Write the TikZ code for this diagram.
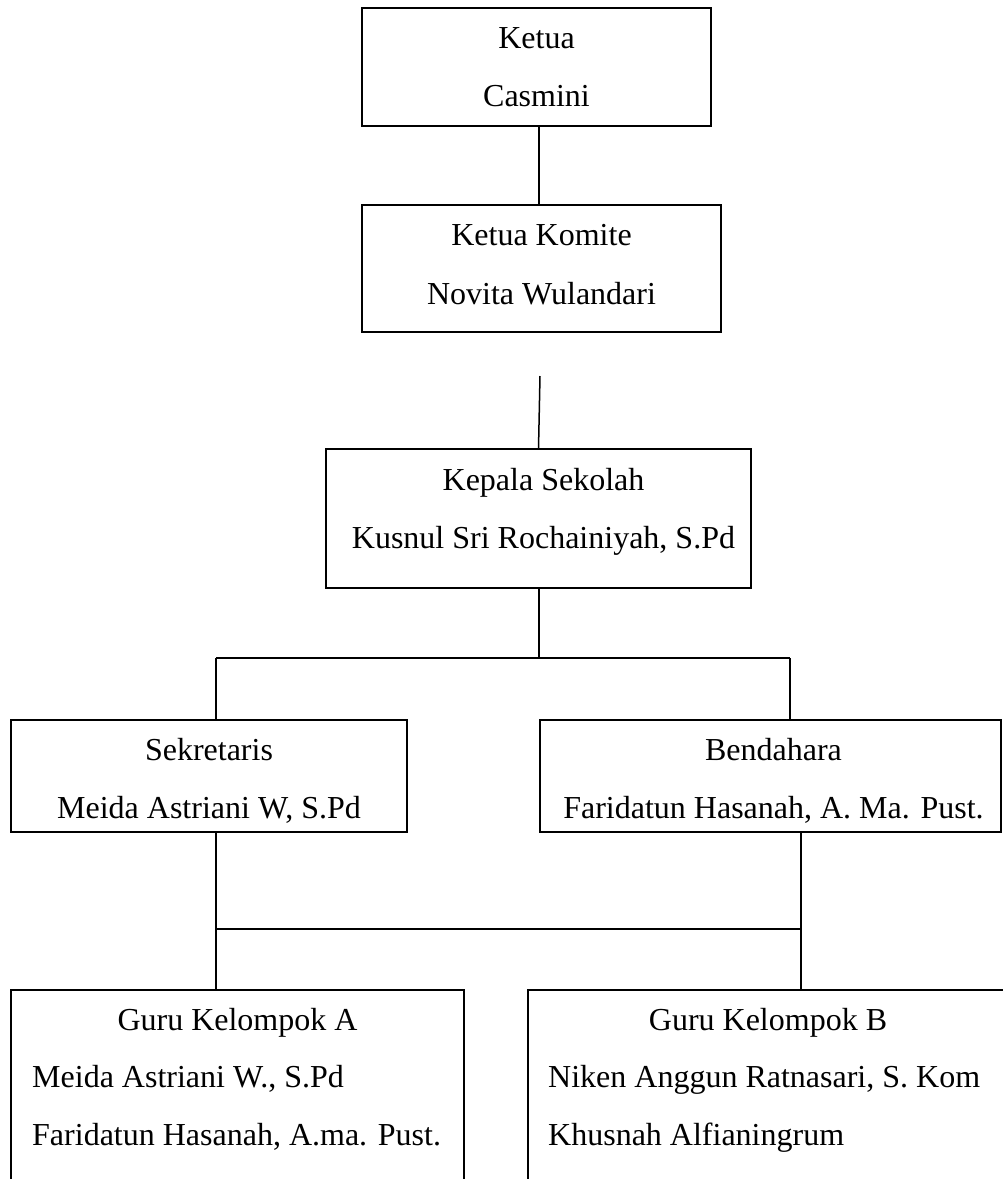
\documentclass[tikz,border=0pt]{standalone}
\usepackage{fontspec}
\setmainfont{Liberation Serif}
\begin{document}
\begin{tikzpicture}[x=1pt,y=-1pt,
  box/.style={draw,line width=1.5pt,inner sep=0pt,outer sep=0pt},
  txt/.style={inner sep=0pt,anchor=base,font=\fontsize{32}{38}\selectfont},
  txl/.style={inner sep=0pt,anchor=base west,font=\fontsize{32}{38}\selectfont},
  conn/.style={line width=1.5pt}]
\clip (0,0) rectangle (1003,1179);
\useasboundingbox (0,0) rectangle (1003,1179);
% boxes
\node[box,minimum width=349pt,minimum height=118pt] (ketua) at (536.5,67) {};
\node[box,minimum width=359pt,minimum height=127pt] (komite) at (541.5,268.5) {};
\node[box,minimum width=425pt,minimum height=139pt] (kepala) at (538.5,518.5) {};
\node[box,minimum width=396pt,minimum height=112pt] (sekr) at (209,776) {};
\node[box,minimum width=461pt,minimum height=112pt] (benda) at (770.5,776) {};
\node[box,minimum width=453pt,minimum height=220pt] (guruA) at (237.5,1100) {};
\node[box,minimum width=480pt,minimum height=220pt] (guruB) at (768,1100) {};
% texts
\node[txt] (t1) at ([yshift=-40pt]ketua.north) {Ketua};
\node[txt] (t2) at ([yshift=-98pt]ketua.north) {Casmini};
\node[txt] (t3) at ([yshift=-40pt]komite.north) {Ketua Komite};
\node[txt] (t4) at ([yshift=-99pt]komite.north) {Novita Wulandari};
\node[txt] (t5) at ([shift={(5pt,-41pt)}]kepala.north) {Kepala Sekolah};
\node[txt] (t6) at ([shift={(5pt,-99pt)}]kepala.north) {Kusnul Sri Rochainiyah, S.Pd};
\node[txt] (t7) at ([yshift=-40pt]sekr.north) {Sekretaris};
\node[txt] (t8) at ([yshift=-98pt]sekr.north) {Meida Astriani W, S.Pd};
\node[txt] (t9) at ([shift={(3pt,-40pt)}]benda.north) {Bendahara};
\node[txt] (t10) at ([shift={(3pt,-98pt)}]benda.north) {Faridatun Hasanah, A. Ma. Pust.};
\node[txt] (t11) at ([yshift=-40pt]guruA.north) {Guru Kelompok A};
\node[txl] (t12) at ([shift={(21pt,-97pt)}]guruA.north west) {Meida Astriani W., S.Pd};
\node[txl] (t13) at ([shift={(21pt,-155pt)}]guruA.north west) {Faridatun Hasanah, A.ma. Pust.};
\node[txt] (t14) at ([yshift=-40pt]guruB.north) {Guru Kelompok B};
\node[txl] (t15) at ([shift={(20pt,-97pt)}]guruB.north west) {Niken Anggun Ratnasari, S. Kom};
\node[txl] (t16) at ([shift={(20pt,-155pt)}]guruB.north west) {Khusnah Alfianingrum};
% connectors
\coordinate (l1) at (539,0);
\draw[conn] (ketua.south -| l1) -- (komite.north -| l1);
\coordinate (gap) at (540,376);
\draw[conn] (gap) -- (kepala.north);
\coordinate (bus1) at (539,658);
\coordinate (b1l) at (216,658);
\coordinate (b1r) at (790,658);
\draw[conn] (kepala.south -| bus1) -- (bus1);
\draw[conn] (b1l) -- (b1r);
\draw[conn] (b1l) -- (b1l |- sekr.north);
\draw[conn] (b1r) -- (b1r |- benda.north);
\coordinate (b2l) at (216,929);
\coordinate (b2r) at (801,929);
\draw[conn] (b2l |- sekr.south) -- (b2l |- guruA.north);
\draw[conn] (b2r |- benda.south) -- (b2r |- guruB.north);
\draw[conn] (b2l) -- (b2r);
\end{tikzpicture}
\end{document}
